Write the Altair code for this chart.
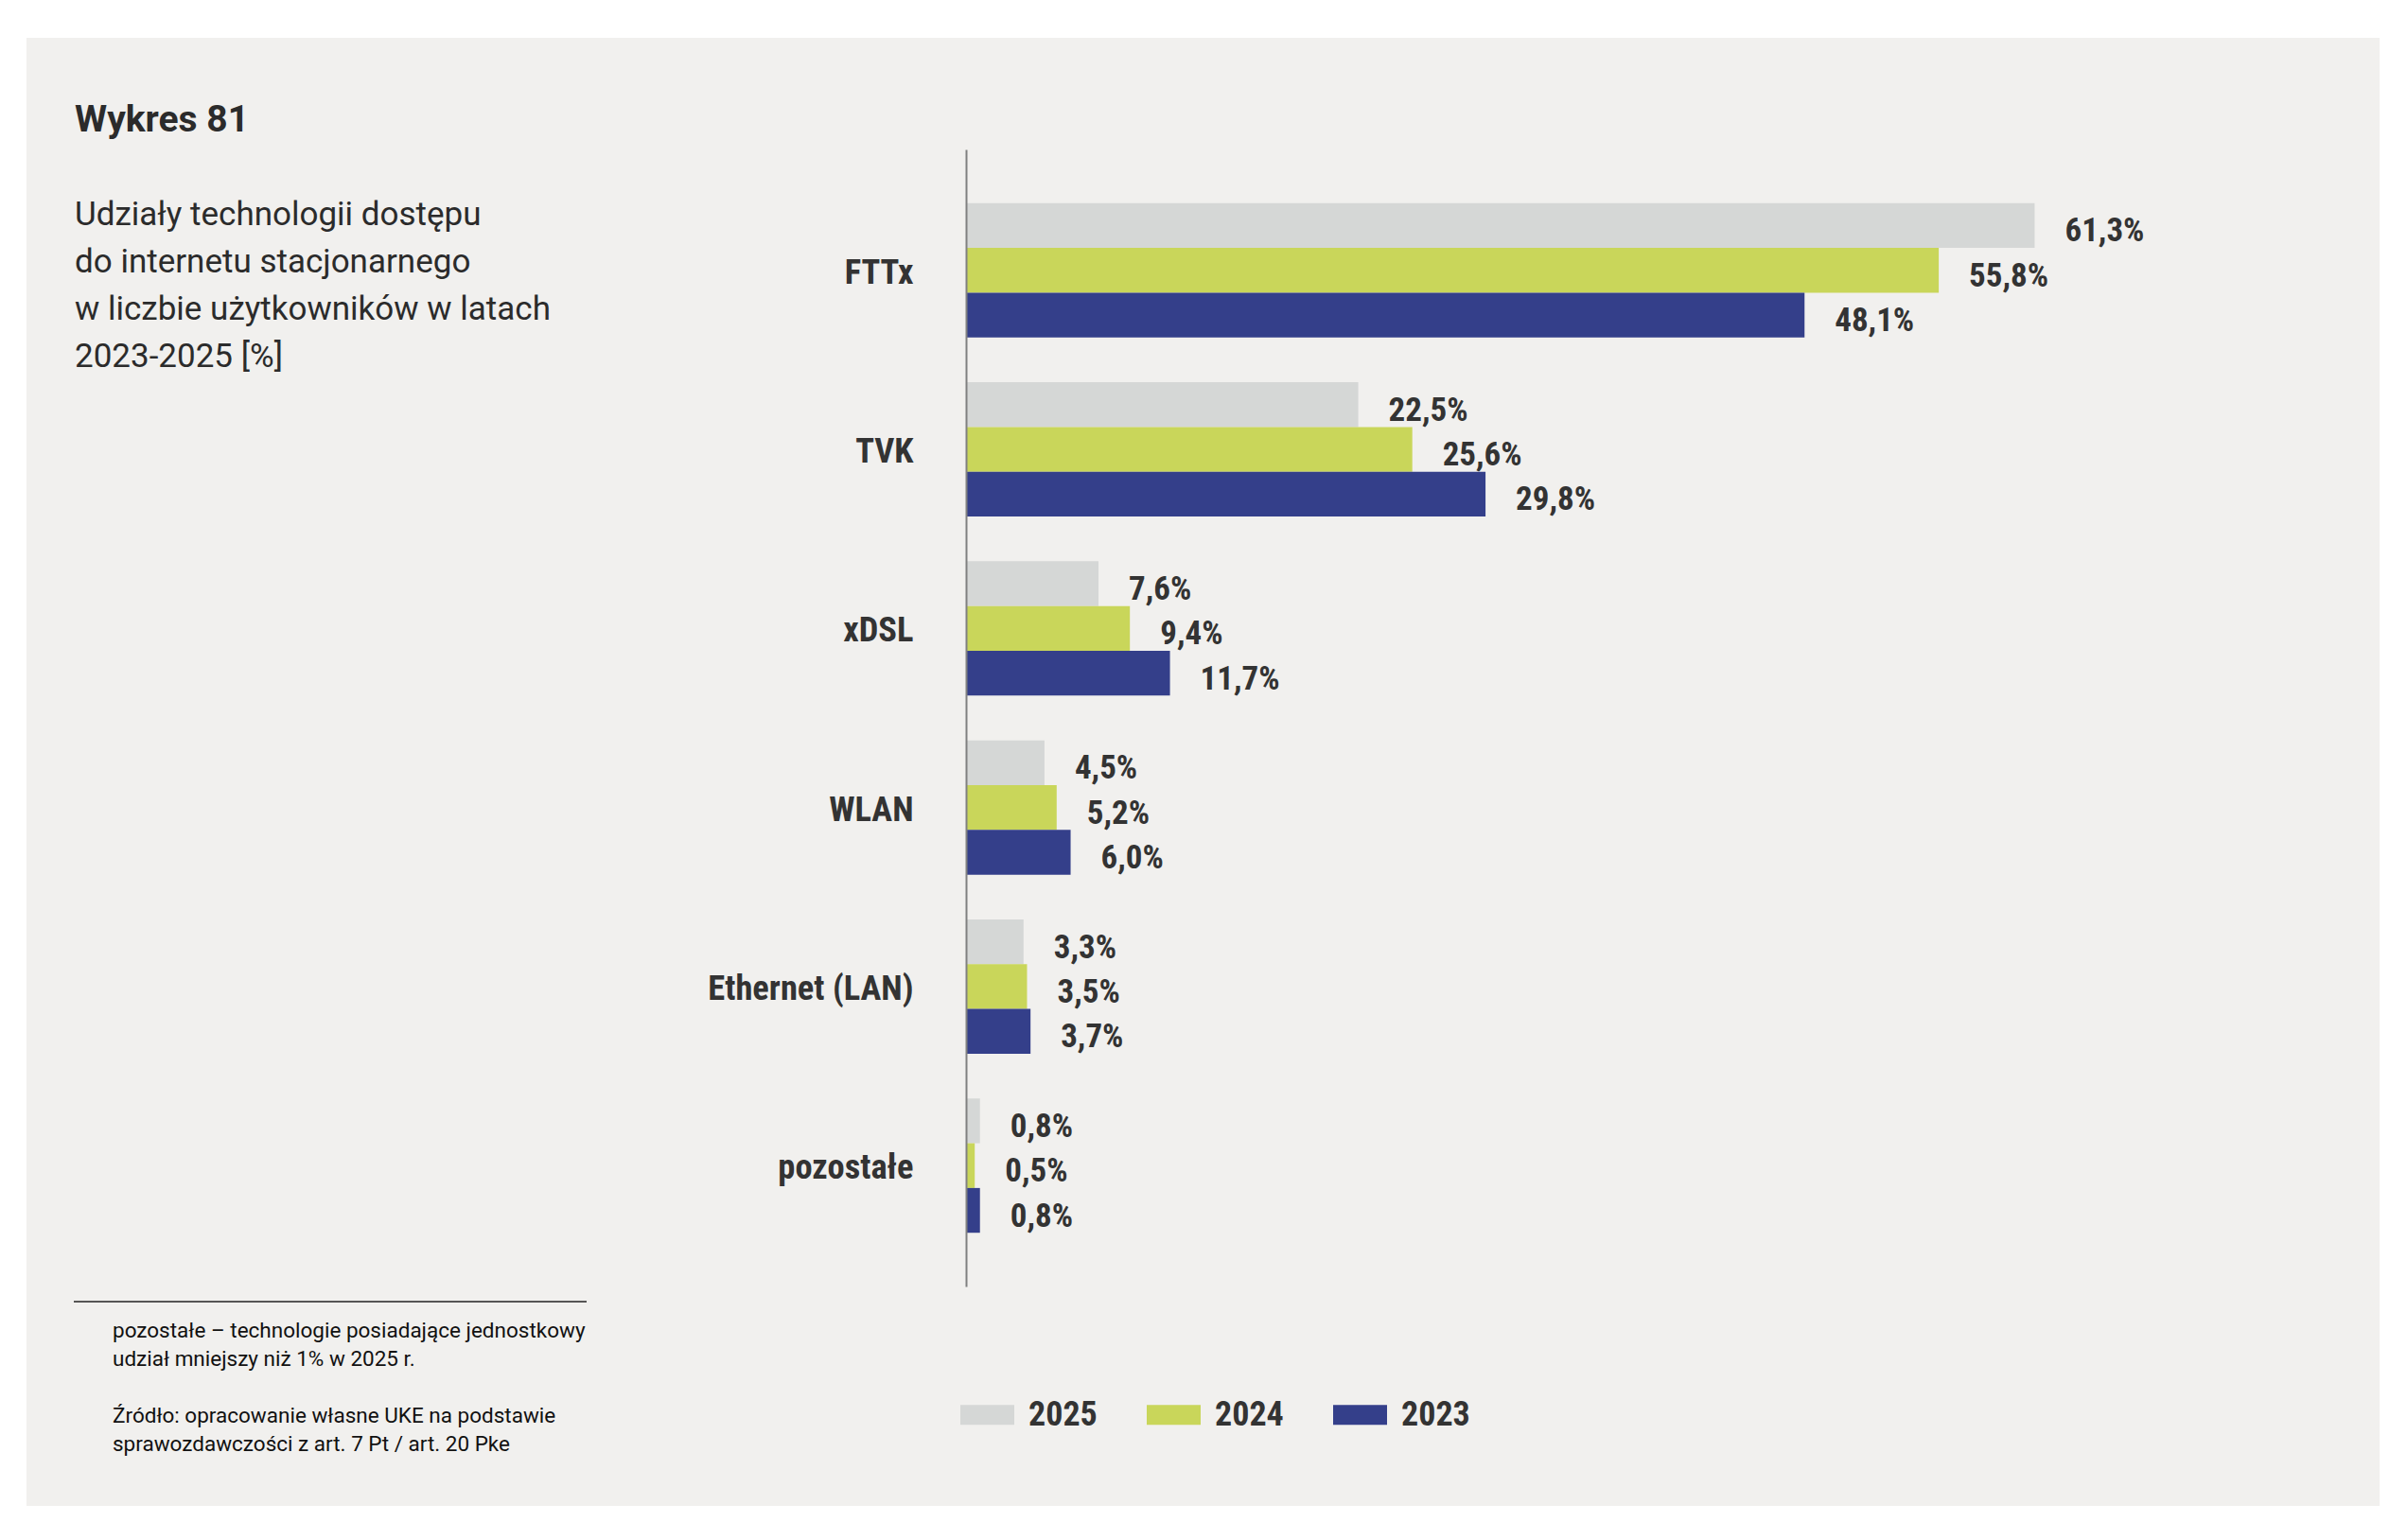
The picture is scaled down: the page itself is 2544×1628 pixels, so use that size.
import altair as alt
import pandas as pd

# Shares of fixed-internet access technologies by number of users, 2023-2025 [%]
categories = ["FTTx", "TVK", "xDSL", "WLAN", "Ethernet (LAN)", "pozostałe"]
years = ["2025", "2024", "2023"]
share_2025 = [61.3, 22.5, 7.6, 4.5, 3.3, 0.8]
share_2024 = [55.8, 25.6, 9.4, 5.2, 3.5, 0.5]
share_2023 = [48.1, 29.8, 11.7, 6.0, 3.7, 0.8]
year_colors = ["#d5d7d6", "#c9d65a", "#343f8a"]

title_text = "Wykres 81"
subtitle_lines = [
    "Udziały technologii dostępu",
    "do internetu stacjonarnego",
    "w liczbie użytkowników w latach",
    "2023-2025 [%]",
]
note_lines = [
    "pozostałe – technologie posiadające jednostkowy",
    "udział mniejszy niż 1% w 2025 r.",
]
source_lines = [
    "Źródło: opracowanie własne UKE na podstawie",
    "sprawozdawczości z art. 7 Pt / art. 20 Pke",
]

series = {"2025": share_2025, "2024": share_2024, "2023": share_2023}
rows = []
for year in years:
    for cat, val in zip(categories, series[year]):
        rows.append({
            "kategoria": cat,
            "rok": year,
            "udzial": val,
            "etykieta": f"{val:.1f}".replace(".", ",") + "%",
        })
df = pd.DataFrame(rows)

COND_FONT = "Roboto Condensed, Liberation Sans Narrow, DejaVu Sans Condensed, Roboto"
TEXT_FONT = "Roboto"
INK = "#333333"

# layout of the plot area inside the page
LEFT, TOP, PLOT_W, PLOT_H = 1021, 158, 1474, 1202
PAGE_W, PAGE_H = 2544, 1628

y_enc = alt.Y(
    "kategoria:N",
    sort=categories,
    title=None,
    scale=alt.Scale(paddingInner=0.25, paddingOuter=0.3),
    axis=alt.Axis(
        zindex=1,
        ticks=False,
        tickSize=0,
        grid=False,
        domainColor="#808080",
        domainWidth=2,
        labelFont=COND_FONT,
        labelFontWeight="bold",
        labelFontSize=36.5,
        labelColor=INK,
        labelPadding=56,
        labelOffset=3,
        labelLimit=400,
    ),
)
yoff_enc = alt.YOffset("rok:N", sort=years, scale=alt.Scale(paddingInner=0, paddingOuter=0))
x_enc = alt.X("udzial:Q", scale=alt.Scale(domain=[0, 80], nice=False), axis=None)

base = alt.Chart(df)

bars = base.mark_bar().encode(
    y=y_enc,
    yOffset=yoff_enc,
    x=x_enc,
    color=alt.Color(
        "rok:N",
        sort=years,
        scale=alt.Scale(domain=years, range=year_colors),
        legend=alt.Legend(
            title=None,
            orient="none",
            direction="horizontal",
            legendX=-6,
            legendY=1309,
            padding=0,
            symbolType="M-1,-0.368H1V0.368H-1Z",
            symbolSize=3249,
            symbolStrokeWidth=0,
            labelFont=COND_FONT,
            labelFontWeight="bold",
            labelFontSize=36,
            labelColor=INK,
            labelOffset=15,
            columnPadding=52,
        ),
    ),
)

values = base.mark_text(
    align="left",
    baseline="middle",
    dx=32,
    dy=6,
    font=COND_FONT,
    fontWeight="bold",
    fontSize=35,
    color=INK,
).encode(y=y_enc, yOffset=yoff_enc, x=x_enc, text="etykieta:N")

one = alt.Data(values=[{"k": 1}])

panel = alt.Chart(one).mark_rect(color="#f1f0ee").encode(
    x=alt.value(28 - LEFT),
    x2=alt.value(2515 - LEFT),
    y=alt.value(40 - TOP),
    y2=alt.value(1592 - TOP),
)

title = alt.Chart(one).mark_text(
    align="left", baseline="alphabetic", font=TEXT_FONT, fontWeight="bold",
    fontSize=39, color="#2b2b2b",
).encode(x=alt.value(79 - LEFT), y=alt.value(139 - TOP), text=alt.value(title_text))

subtitle = alt.Chart(one).mark_text(
    align="left", baseline="alphabetic", font=TEXT_FONT, fontSize=35,
    lineHeight=50, lineBreak="\n", color="#2b2b2b",
).encode(x=alt.value(79 - LEFT), y=alt.value(238 - TOP), text=alt.value("\n".join(subtitle_lines)))

note_rule = alt.Chart(one).mark_rule(color="#222222", strokeWidth=1.5).encode(
    x=alt.value(78 - LEFT), x2=alt.value(620 - LEFT), y=alt.value(1376 - TOP)
)

note_style = dict(
    align="left", baseline="alphabetic", font=TEXT_FONT, fontSize=22.5,
    lineHeight=30, lineBreak="\n", color="#111111",
)

note = alt.Chart(one).mark_text(**note_style).encode(
    x=alt.value(119 - LEFT), y=alt.value(1414 - TOP), text=alt.value("\n".join(note_lines))
)

source = alt.Chart(one).mark_text(**note_style).encode(
    x=alt.value(119 - LEFT), y=alt.value(1504 - TOP), text=alt.value("\n".join(source_lines))
)

chart = (
    alt.layer(panel, bars, values, title, subtitle, note_rule, note, source)
    .properties(
        width=PLOT_W,
        height=PLOT_H,
        background="white",
        autosize=alt.AutoSizeParams(type="none"),
        padding={"left": LEFT, "top": TOP, "right": PAGE_W - LEFT - PLOT_W, "bottom": PAGE_H - TOP - PLOT_H},
    )
    .configure_view(stroke=None)
)

chart.save("out.html", embed_options={"renderer": "svg", "actions": False})
